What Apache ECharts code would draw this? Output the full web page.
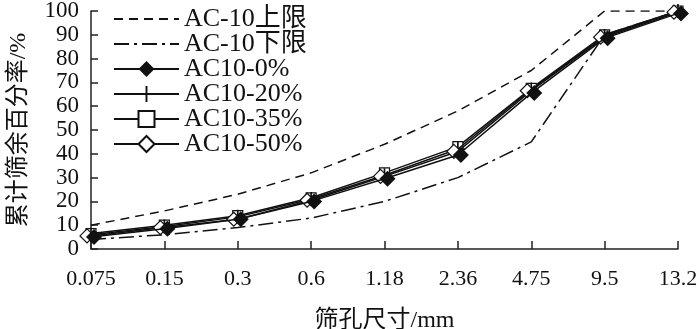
<!DOCTYPE html>
<html><head><meta charset="utf-8">
<script src="https://cdn.jsdelivr.net/npm/echarts@6/dist/echarts.min.js"></script>
<style>html,body{margin:0;padding:0;background:#fff}#c{width:700px;height:329px}</style>
</head><body><div id="c"></div>
<script>
const categories = ['0.075','0.15','0.3','0.6','1.18','2.36','4.75','9.5','13.2'];
const upperLimit = [10, 16, 23, 32, 44, 58, 75, 100, 100];
const lowerLimit = [4, 6, 9, 13, 20, 30, 45, 90, 100];
const ac0  = [5, 8.5, 12.5, 20, 29.5, 39.5, 65.5, 88.5, 99];
const ac20 = [6, 9.5, 13.5, 21, 31, 42, 67, 89.5, 100];
const ac35 = [6.5, 10, 14, 21.5, 32, 43, 67.5, 90, 100];
const ac50 = [5.5, 9, 12.5, 20.5, 30.5, 41, 66.5, 89, 99.5];
const yTicks = [0,10,20,30,40,50,60,70,80,90,100];

const serif = '"Liberation Serif","Noto Sans CJK SC",serif';
const plusPath = 'path://M0,4.4h10v1.2h-10z M4.4,0h1.2v10h-1.2z';
const chart = echarts.init(document.getElementById('c'));
const base = (name, data, extra) => Object.assign({
  name, type: 'line', data, animation: false,
  lineStyle: {color: '#111', width: 1.5},
  itemStyle: {color: '#111'},
}, extra);
chart.setOption({
  backgroundColor: '#fff',
  textStyle: {fontFamily: serif},
  grid: {left: 91, right: 22, top: 11, bottom: 80, containLabel: false, outerBoundsMode: 'none'},
  legend: {
    orient: 'vertical', left: 108, top: 1,
    itemWidth: 65, itemHeight: 20, itemGap: -1,
    textStyle: {fontFamily: serif, fontSize: 26, lineHeight: 20, color: '#111'},
    data: [
      {name: 'AC-10上限', itemStyle: {opacity: 0}},
      {name: 'AC-10下限', itemStyle: {opacity: 0}},
      'AC10-0%','AC10-20%','AC10-35%','AC10-50%'
    ]
  },
  xAxis: {
    type: 'category', data: categories, boundaryGap: false,
    name: '筛孔尺寸/mm', nameLocation: 'middle', nameGap: 60,
    nameTextStyle: {fontFamily: serif, fontSize: 24, color: '#111'},
    axisLine: {show: true, onZero: false, lineStyle: {color: '#222', width: 1.5}},
    axisTick: {show: true, inside: true, length: 8, alignWithLabel: true, lineStyle: {color: '#222', width: 1.5}},
    axisLabel: {fontFamily: serif, fontSize: 22, color: '#111', margin: 19, showMinLabel: true, showMaxLabel: true},
    splitLine: {show: false}
  },
  yAxis: {
    type: 'value', min: 0, max: 100, interval: 10,
    name: '累计筛余百分率/%', nameLocation: 'middle', nameGap: 60, nameRotate: 90,
    nameTextStyle: {fontFamily: serif, fontSize: 24, color: '#111'},
    axisLine: {show: true, lineStyle: {color: '#222', width: 1.5}},
    axisTick: {show: true, inside: true, length: 7, lineStyle: {color: '#222', width: 1.5}},
    axisLabel: {fontFamily: serif, fontSize: 23, color: '#111', margin: 12, showMinLabel: true, showMaxLabel: true, hideOverlap: false,
      formatter: v => yTicks.includes(v) ? String(v) : ''},
    splitLine: {show: false}
  },
  series: [
    base('AC-10上限', upperLimit, {symbol: 'circle', symbolSize: 0, showSymbol: false, lineStyle: {color: '#111', width: 1.5, type: [9, 6]}, z: 1}),
    base('AC-10下限', lowerLimit, {symbol: 'circle', symbolSize: 0, showSymbol: false, lineStyle: {color: '#111', width: 1.5, type: [15, 5, 3, 5]}, z: 1}),
    base('AC10-35%', ac35, {symbol: 'rect', symbolSize: 10, itemStyle: {color: '#fff', borderColor: '#111', borderWidth: 1.2}, z: 2}),
    base('AC10-20%', ac20, {symbol: plusPath, symbolSize: 14, z: 3}),
    base('AC10-50%', ac50, {symbol: 'diamond', symbolSize: 14, symbolOffset: [-4, 0], itemStyle: {color: '#fff', borderColor: '#111', borderWidth: 1.2}, z: 4}),
    base('AC10-0%', ac0, {symbol: 'diamond', symbolSize: 16, symbolOffset: [3, 0], z: 5})
  ]
});
</script></body></html>
